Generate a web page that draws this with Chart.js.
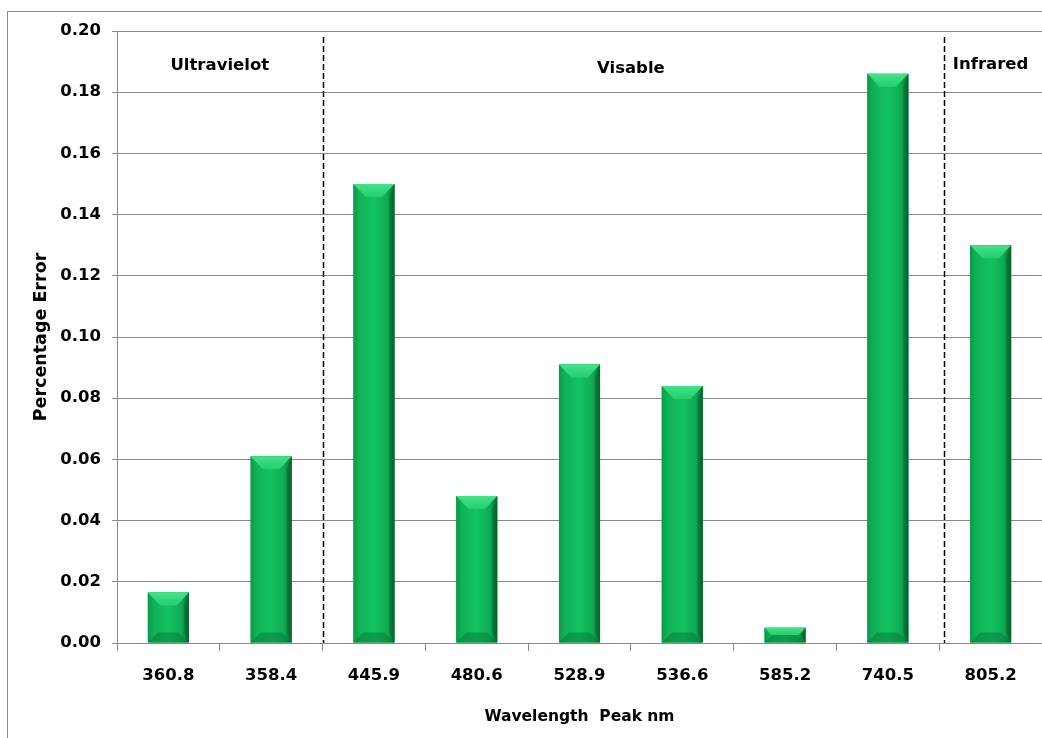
<!DOCTYPE html>
<html>
<head>
<meta charset="utf-8">
<script src="https://cdn.jsdelivr.net/npm/chart.js@4.4.1/dist/chart.umd.min.js"></script>
<style>
    html, body { margin: 0; padding: 0; background: #fff; }
    #wrap { position: relative; width: 1042px; height: 738px; overflow: hidden; }
    #frame { position: absolute; left: 7px; top: 11px; width: 1100px; height: 800px;
             border-left: 1px solid #8a8a8a; border-top: 1px solid #8a8a8a; }
    canvas { position: absolute; left: 0; top: 0; }
</style>
</head>
<body>
<div id="wrap">
    <div id="frame"></div>
    <canvas id="chart" width="1042" height="738"></canvas>
</div>
<script>
// Spektr cho'qqilari bo'yicha foiz xatosi
const wavelengths = ['360.8', '358.4', '445.9', '480.6', '528.9', '536.6', '585.2', '740.5', '805.2'];
const percentError = [0.0165, 0.061, 0.150, 0.048, 0.091, 0.084, 0.005, 0.186, 0.130];
const yTicks = [0, 0.02, 0.04, 0.06, 0.08, 0.10, 0.12, 0.14, 0.16, 0.18, 0.20];

// hududlar: nom, markaz (kategoriya indeksi), ajratuvchi chiziqlar
const regionNames = ['Ultravielot', 'Visable', 'Infrared'];
const regionCenters = [0.5, 4.5, 8];
const regionLabelValues = [0.1888, 0.1878, 0.1891];
const regionBreaks = [1.5, 7.55];

const FONT = "'DejaVu Sans', Verdana, sans-serif";

// 3D "bevel" ustunlar
const bevelBars = {
    id: 'bevelBars',
    afterDatasetsDraw(chart) {
        const ctx = chart.ctx;
        const meta = chart.getDatasetMeta(0);
        meta.data.forEach(bar => {
            const w = bar.width;
            const l = bar.x - w / 2, r = bar.x + w / 2;
            const t = Math.min(bar.y, bar.base), b = Math.max(bar.y, bar.base);
            const h = b - t;
            const d = Math.min(13, h / 2);
            const db = Math.min(10, h / 2);
            ctx.save();

            const body = ctx.createLinearGradient(l, 0, r, 0);
            body.addColorStop(0, '#0a9a49');
            body.addColorStop(0.15, '#10b257');
            body.addColorStop(0.5, '#14c262');
            body.addColorStop(0.82, '#0eab54');
            body.addColorStop(1, '#06692f');
            ctx.fillStyle = body;
            ctx.fillRect(l, t, w, h);

            // yuqori qiya yuz
            const top = ctx.createLinearGradient(0, t, 0, t + d);
            top.addColorStop(0, '#45e28a');
            top.addColorStop(1, '#22cf6d');
            ctx.fillStyle = top;
            ctx.beginPath();
            ctx.moveTo(l, t);
            ctx.lineTo(r, t);
            ctx.lineTo(r - d * 0.95, t + d);
            ctx.lineTo(l + d * 0.95, t + d);
            ctx.closePath();
            ctx.fill();

            // pastki qiya yuz
            ctx.fillStyle = 'rgba(6,120,55,0.5)';
            ctx.beginPath();
            ctx.moveTo(l, b);
            ctx.lineTo(r, b);
            ctx.lineTo(r - db, b - db);
            ctx.lineTo(l + db, b - db);
            ctx.closePath();
            ctx.fill();

            // o'ng qirra
            ctx.fillStyle = 'rgba(4,90,40,0.4)';
            ctx.beginPath();
            ctx.moveTo(r, t);
            ctx.lineTo(r, b);
            ctx.lineTo(r - 5, b - db);
            ctx.lineTo(r - 5, t + d);
            ctx.closePath();
            ctx.fill();

            ctx.restore();
        });
    },
    afterDraw(chart) {
        const ctx = chart.ctx;
        const xs = chart.scales.x, ys = chart.scales.y;
        const area = chart.chartArea;
        ctx.save();
        ctx.strokeStyle = '#000';
        ctx.lineWidth = 1.5;
        ctx.setLineDash([6, 3]);
        regionBreaks.forEach(v => {
            const px = Math.round(xs.getPixelForValue(v)) + 0.5;
            ctx.beginPath();
            ctx.moveTo(px, area.top + 6);
            ctx.lineTo(px, area.bottom);
            ctx.stroke();
        });
        ctx.setLineDash([]);
        ctx.fillStyle = '#000';
        ctx.font = 'bold 16.5px ' + FONT;
        ctx.textAlign = 'center';
        ctx.textBaseline = 'middle';
        regionNames.forEach((name, i) => {
            ctx.fillText(name, xs.getPixelForValue(regionCenters[i]), ys.getPixelForValue(regionLabelValues[i]));
        });
        ctx.restore();
    }
};

new Chart(document.getElementById('chart').getContext('2d'), {
    type: 'bar',
    data: {
        labels: wavelengths,
        datasets: [{
            data: percentError,
            backgroundColor: '#12b85a',
            categoryPercentage: 1,
            barPercentage: 0.4,
        }],
    },
    options: {
        responsive: false,
        animation: false,
        devicePixelRatio: 1,
        layout: { padding: { left: 0, right: 0, top: 31, bottom: 10 } },
        plugins: { legend: { display: false }, tooltip: { enabled: false } },
        scales: {
            x: {
                afterFit: s => { s.height = 85; },
                grid: { drawOnChartArea: false, drawTicks: true, tickLength: 8, color: '#8a8a8a', offset: true },
                border: { display: true, color: '#8a8a8a' },
                ticks: { color: '#000', padding: 15, font: { family: FONT, size: 16.5, weight: 'bold' } },
                title: {
                    display: true, text: 'Wavelength  Peak nm', color: '#000',
                    font: { family: FONT, size: 15.5, weight: 'bold' },
                    padding: { top: 0, bottom: 2 },
                },
            },
            y: {
                min: 0, max: 0.2,
                afterFit: s => { s.width = 117; },
                afterBuildTicks: s => { s.ticks = yTicks.map(v => ({ value: v })); },
                grid: { color: '#8a8a8a', tickLength: 5 },
                border: { display: true, color: '#8a8a8a' },
                ticks: {
                    color: '#000', padding: 11,
                    font: { family: FONT, size: 16.5, weight: 'bold' },
                    callback: v => Number(v).toFixed(2),
                },
                title: {
                    display: true, text: 'Percentage Error', color: '#000',
                    font: { family: FONT, size: 17.5, weight: 'bold' },
                    padding: { top: 31, bottom: 0 },
                },
            },
        },
    },
    plugins: [bevelBars],
});
</script>
</body>
</html>
